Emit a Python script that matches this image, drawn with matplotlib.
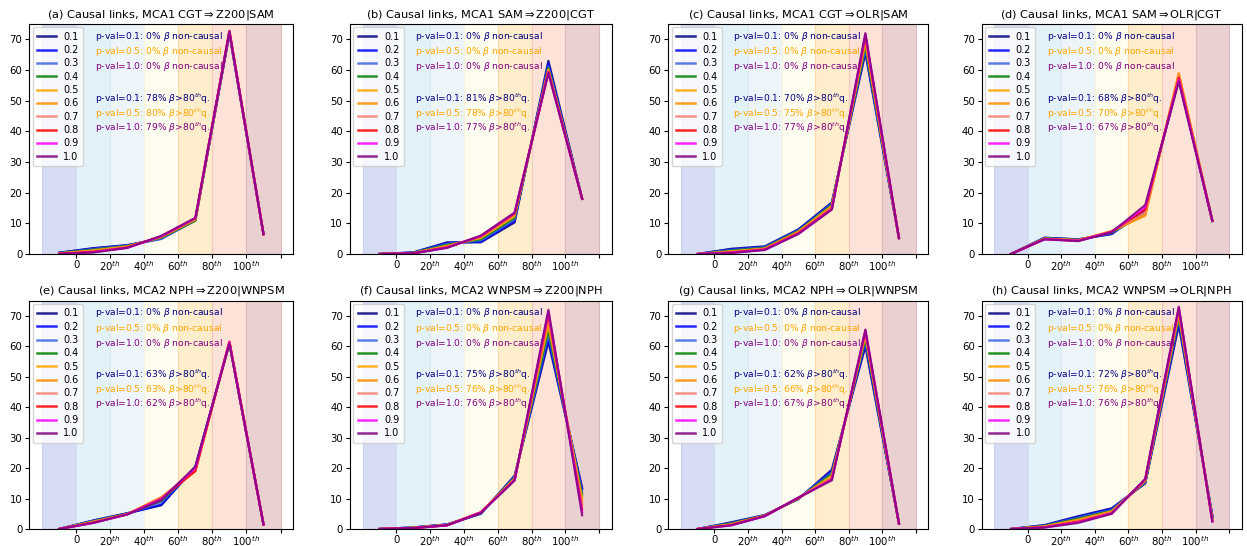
import matplotlib
matplotlib.use("Agg")
import matplotlib.pyplot as plt

# ---------------- data ----------------
x_centers = [-10, 10, 30, 50, 70, 90, 110]
pvals = ["0.1", "0.2", "0.3", "0.4", "0.5", "0.6", "0.7", "0.8", "0.9", "1.0"]
line_colors = ["navy", "blue", "royalblue", "green", "orange", "darkorange",
               "salmon", "red", "magenta", "purple"]

titles = [
    "(a) Causal links, MCA1 CGT$\\Rightarrow$Z200|SAM",
    "(b) Causal links, MCA1 SAM$\\Rightarrow$Z200|CGT",
    "(c) Causal links, MCA1 CGT$\\Rightarrow$OLR|SAM",
    "(d) Causal links, MCA1 SAM$\\Rightarrow$OLR|CGT",
    "(e) Causal links, MCA2 NPH$\\Rightarrow$Z200|WNPSM",
    "(f) Causal links, MCA2 WNPSM$\\Rightarrow$Z200|NPH",
    "(g) Causal links, MCA2 NPH$\\Rightarrow$OLR|WNPSM",
    "(h) Causal links, MCA2 WNPSM$\\Rightarrow$OLR|NPH",
]

noncausal_pct = [[0, 0, 0]] * 8
above80_pct = [
    [78, 80, 79],
    [81, 78, 77],
    [70, 75, 77],
    [68, 70, 67],
    [63, 63, 62],
    [75, 76, 76],
    [62, 66, 67],
    [72, 76, 76],
]

panel_a = [
    [0.4, 1.9, 2.9, 5.0, 11.0, 71.8, 6.4],
    [0.4, 1.8, 2.8, 5.1, 11.0, 72.0, 6.5],
    [0.3, 1.6, 2.7, 4.9, 11.2, 72.2, 6.5],
    [0.3, 1.4, 2.6, 5.3, 10.9, 72.4, 6.5],
    [0.2, 1.2, 2.5, 5.5, 11.2, 72.6, 6.5],
    [0.2, 1.0, 2.3, 5.6, 11.4, 72.8, 6.4],
    [0.1, 0.8, 2.2, 5.7, 11.5, 72.8, 6.5],
    [0.1, 0.7, 2.1, 5.8, 11.6, 72.7, 6.5],
    [0.0, 0.6, 2.0, 5.8, 11.7, 72.6, 6.5],
    [0.0, 0.5, 2.0, 5.9, 11.8, 72.5, 6.5],
]
panel_b = [
    [0.0, 0.5, 3.8, 3.8, 10.3, 63.0, 18.0],
    [0.0, 0.5, 3.6, 4.0, 10.8, 62.0, 18.0],
    [0.0, 0.4, 3.3, 4.4, 11.3, 61.2, 18.0],
    [0.0, 0.4, 3.0, 4.8, 11.8, 60.6, 18.0],
    [0.0, 0.3, 2.7, 5.2, 12.3, 60.2, 18.0],
    [0.0, 0.3, 2.5, 5.5, 12.7, 59.8, 18.0],
    [0.0, 0.3, 2.3, 5.7, 13.0, 59.6, 18.0],
    [0.0, 0.2, 2.2, 5.8, 13.2, 59.4, 18.0],
    [0.0, 0.2, 2.1, 5.9, 13.4, 59.2, 18.0],
    [0.0, 0.2, 2.0, 6.0, 13.5, 59.0, 18.0],
]
panel_c = [
    [0.0, 1.7, 2.5, 8.0, 16.8, 65.5, 5.2],
    [0.0, 1.5, 2.3, 7.9, 16.6, 66.3, 5.2],
    [0.0, 1.3, 2.2, 7.7, 16.3, 67.0, 5.2],
    [0.0, 1.1, 2.0, 7.5, 16.0, 67.8, 5.2],
    [0.0, 0.9, 1.8, 7.3, 15.7, 68.8, 5.2],
    [0.0, 0.7, 1.7, 7.1, 15.4, 69.6, 5.2],
    [0.0, 0.6, 1.6, 6.9, 15.1, 70.4, 5.2],
    [0.0, 0.5, 1.5, 6.8, 14.8, 71.0, 5.2],
    [0.0, 0.4, 1.4, 6.6, 14.6, 71.6, 5.2],
    [0.0, 0.3, 1.3, 6.5, 14.5, 72.0, 5.2],
]
panel_d = [
    [0.0, 5.3, 4.8, 6.5, 14.5, 57.0, 10.8],
    [0.0, 5.3, 4.7, 6.6, 14.0, 57.5, 10.8],
    [0.0, 5.2, 4.7, 6.8, 13.5, 58.0, 10.8],
    [0.0, 5.1, 4.6, 7.0, 13.2, 58.3, 10.8],
    [0.0, 5.0, 4.5, 7.3, 12.8, 58.8, 10.8],
    [0.0, 5.0, 4.5, 7.5, 12.5, 59.0, 10.8],
    [0.0, 4.9, 4.4, 7.4, 13.5, 58.2, 10.8],
    [0.0, 4.9, 4.3, 7.3, 14.5, 57.5, 10.8],
    [0.0, 4.8, 4.3, 7.2, 15.3, 56.8, 10.8],
    [0.0, 4.8, 4.2, 7.1, 16.0, 56.2, 10.8],
]
panel_e = [
    [0.0, 2.8, 5.2, 7.8, 20.5, 61.0, 1.5],
    [0.0, 2.7, 5.1, 8.0, 20.3, 61.0, 1.5],
    [0.0, 2.6, 5.0, 8.8, 20.0, 61.2, 1.5],
    [0.0, 2.5, 5.0, 9.3, 19.8, 61.2, 1.5],
    [0.0, 2.4, 4.9, 10.0, 19.5, 61.3, 1.5],
    [0.0, 2.3, 4.9, 10.5, 19.3, 61.4, 1.5],
    [0.0, 2.2, 4.8, 10.3, 19.2, 61.5, 1.5],
    [0.0, 2.1, 4.8, 10.0, 19.0, 61.6, 1.5],
    [0.0, 2.0, 4.8, 9.8, 20.0, 61.4, 1.5],
    [0.0, 2.0, 4.8, 9.5, 20.5, 61.0, 1.5],
]
panel_f = [
    [0.0, 0.5, 1.5, 5.0, 17.5, 61.5, 13.5],
    [0.0, 0.5, 1.5, 5.1, 17.3, 62.5, 13.0],
    [0.0, 0.5, 1.4, 5.2, 17.0, 64.0, 12.0],
    [0.0, 0.4, 1.4, 5.3, 16.8, 65.5, 11.0],
    [0.0, 0.4, 1.3, 5.4, 16.6, 67.0, 10.0],
    [0.0, 0.4, 1.3, 5.5, 16.4, 68.5, 9.0],
    [0.0, 0.3, 1.3, 5.5, 16.2, 69.5, 8.0],
    [0.0, 0.3, 1.2, 5.5, 16.1, 70.5, 6.5],
    [0.0, 0.3, 1.2, 5.4, 16.0, 71.5, 5.5],
    [0.0, 0.3, 1.2, 5.3, 16.0, 72.0, 4.5],
]
panel_g = [
    [0.0, 2.2, 4.6, 9.8, 19.5, 60.0, 1.8],
    [0.0, 2.0, 4.5, 9.9, 19.0, 60.8, 1.8],
    [0.0, 1.9, 4.5, 10.0, 18.5, 61.8, 1.8],
    [0.0, 1.8, 4.4, 10.0, 18.0, 62.5, 1.8],
    [0.0, 1.6, 4.4, 10.1, 17.5, 63.3, 1.8],
    [0.0, 1.5, 4.3, 10.1, 17.0, 64.0, 1.8],
    [0.0, 1.4, 4.3, 10.2, 16.7, 64.5, 1.8],
    [0.0, 1.3, 4.3, 10.2, 16.4, 64.8, 1.8],
    [0.0, 1.2, 4.2, 10.3, 16.2, 65.2, 1.8],
    [0.0, 1.2, 4.2, 10.3, 16.0, 65.5, 1.8],
]
panel_h = [
    [0.0, 1.3, 4.2, 6.8, 15.0, 67.0, 4.5],
    [0.0, 1.2, 4.0, 6.6, 15.2, 68.0, 4.0],
    [0.0, 1.1, 3.7, 6.3, 15.4, 69.0, 3.8],
    [0.0, 1.0, 3.4, 6.0, 15.6, 69.8, 3.5],
    [0.0, 0.9, 3.1, 5.8, 15.8, 70.5, 3.3],
    [0.0, 0.8, 2.9, 5.6, 16.0, 71.2, 3.0],
    [0.0, 0.7, 2.6, 5.4, 16.1, 71.8, 2.8],
    [0.0, 0.6, 2.4, 5.2, 16.2, 72.3, 2.6],
    [0.0, 0.5, 2.2, 5.1, 16.4, 72.7, 2.5],
    [0.0, 0.5, 2.0, 5.0, 16.5, 73.0, 2.5],
]
panels = [panel_a, panel_b, panel_c, panel_d, panel_e, panel_f, panel_g, panel_h]

band_edges = [-20, 0, 20, 40, 60, 80, 100, 120]
band_colors = ["#d5dcf4", "#e3f1f8", "#eef5fa", "#fffdf0",
               "#ffedcc", "#fde2d8", "#ebd0d1"]
band_edge_colors = ["#c8d2f0", "#cfe3f2", "#dde9f2", "#f7f2dc",
                    "#fbd9a8", "#f6c9bc", "#dcb9bb"]
xtick_pos = [0, 20, 40, 60, 80, 100, 120]
xtick_labels = ["0", "20$^{th}$", "40$^{th}$", "60$^{th}$", "80$^{th}$", "100$^{th}$", ""]
text_pv = ["0.1", "0.5", "1.0"]
text_colors = ["navy", "orange", "purple"]

# ---------------- layout ----------------
W, H = 1247, 546
fig = plt.figure(figsize=(W / 100, H / 100), dpi=100)
col_lr = [(29.3, 293.3), (350, 611.7), (668.3, 928.3), (981.7, 1241.7)]
row_tb = [(24, 254), (300.7, 529)]

for i in range(8):
    r, c = divmod(i, 4)
    l, rr = col_lr[c]
    t, b = row_tb[r]
    ax = fig.add_axes([l / W, 1 - b / H, (rr - l) / W, (b - t) / H])
    for k in range(7):
        ax.axvspan(band_edges[k], band_edges[k + 1], facecolor=band_colors[k],
                   edgecolor=band_edge_colors[k], lw=0.8, zorder=0)
    for s in range(10):
        ax.plot(x_centers, panels[i][s], color=line_colors[s], lw=1.6, alpha=0.85, label=pvals[s])
    ax.set_xlim(-27.5, 127.5)
    ax.set_ylim(0, 75)
    ax.set_xticks(xtick_pos)
    ax.set_xticklabels(xtick_labels, fontsize=7.3)
    ax.set_yticks([0, 10, 20, 30, 40, 50, 60, 70])
    ax.tick_params(axis="y", labelsize=7.3, length=3, pad=2)
    ax.tick_params(axis="x", length=3, pad=1)
    ax.set_title(titles[i], fontsize=8.2, pad=5)
    leg = ax.legend(loc="upper left", fontsize=7, labelspacing=0.34, handlelength=1.9,
                    handletextpad=0.8, borderpad=0.45, borderaxespad=0.35, framealpha=0.8)
    for ln in leg.get_lines():
        ln.set_linewidth(1.8)
    ys = [71, 66, 61]
    for j in range(3):
        ax.text(0.25, ys[j], "p-val=%s: %d%% $\\beta$ non-causal" % (text_pv[j], noncausal_pct[i][j]),
                color=text_colors[j], fontsize=6.6, va="center", transform=ax.get_yaxis_transform())
    ys2 = [50.5, 45.8, 41]
    for j in range(3):
        ax.text(0.25, ys2[j], "p-val=%s: %d%% $\\beta$>80$^{th}$q." % (text_pv[j], above80_pct[i][j]),
                color=text_colors[j], fontsize=6.6, va="center", transform=ax.get_yaxis_transform())

fig.savefig("out.png", dpi=100)
